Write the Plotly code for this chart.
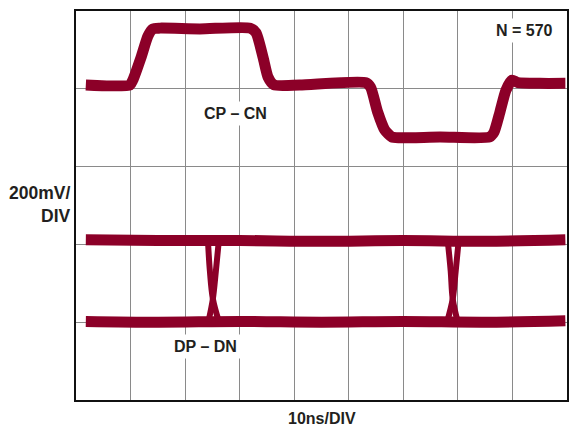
import plotly.graph_objects as go

# ---- data (x in ns-divisions, y in 200mV divisions) ----
cpcn_x = [0.18, 0.99, 1.04, 1.19, 1.32, 1.41, 1.54, 2.27, 3.19, 3.30, 3.43, 3.52, 3.63,
          4.10, 5.31, 5.40, 5.53, 5.66, 5.79, 5.93, 6.67, 7.58, 7.66, 7.77, 7.88, 7.99,
          8.10, 8.50, 8.97]
cpcn_y = [4.05, 4.05, 4.11, 4.40, 4.68, 4.77, 4.78, 4.77, 4.78, 4.72, 4.40, 4.15, 4.05,
          4.05, 4.08, 4.02, 3.70, 3.47, 3.38, 3.37, 3.38, 3.38, 3.44, 3.70, 3.98, 4.11,
          4.08, 4.07, 4.07]

dpdn_level_x = [0.18, 1.5, 3.0, 4.5, 6.0, 7.5, 8.97]
dpdn_high_y = [2.06, 2.05, 2.05, 2.04, 2.05, 2.04, 2.06]
dpdn_low_y = [1.01, 1.00, 1.01, 1.00, 1.01, 1.00, 1.02]

edge_y = [2.054, 1.658, 1.30, 1.008]
edge1_fall_x = [2.418, 2.454, 2.509, 2.619]
edge1_rise_x = [2.619, 2.564, 2.509, 2.427]
edge2_fall_x = [6.813, 6.868, 6.905, 6.996]
edge2_rise_x = [7.015, 6.960, 6.905, 6.804]

x_divs = 9
y_divs = 5

TRACE = "#8C0028"
FONT = "Liberation Sans, Arial, Helvetica, sans-serif"
TXT = "#231F20"

fig = go.Figure()

fig.add_trace(go.Scatter(x=cpcn_x, y=cpcn_y, mode="lines",
                         line=dict(color=TRACE, width=11, shape="spline", smoothing=0.6),
                         hoverinfo="skip", showlegend=False))
for ly in (dpdn_high_y, dpdn_low_y):
    fig.add_trace(go.Scatter(x=dpdn_level_x, y=ly, mode="lines",
                             line=dict(color=TRACE, width=11, shape="spline"),
                             hoverinfo="skip", showlegend=False))
for ex in (edge1_fall_x, edge1_rise_x, edge2_fall_x, edge2_rise_x):
    fig.add_trace(go.Scatter(x=ex, y=edge_y, mode="lines",
                             line=dict(color=TRACE, width=6, shape="spline"),
                             hoverinfo="skip", showlegend=False))

axis_common = dict(showticklabels=False, ticks="", showgrid=True, gridcolor="#8a8a8a",
                   gridwidth=1, zeroline=False, showline=True, linecolor="#111111",
                   linewidth=2, mirror=True, fixedrange=True)
fig.update_xaxes(range=[0, x_divs], dtick=1, tick0=0, **axis_common)
fig.update_yaxes(range=[0, y_divs], dtick=1, tick0=0, **axis_common)

ann_font = dict(family=FONT, size=16, color=TXT)
fig.add_annotation(x=2.925, y=3.686, xref="x", yref="y", text="<b>CP – CN</b>",
                   showarrow=False, font=ann_font, bgcolor="white", borderpad=3)
fig.add_annotation(x=2.381, y=0.689, xref="x", yref="y", text="<b>DP – DN</b>",
                   showarrow=False, font=ann_font, bgcolor="white", borderpad=3)
fig.add_annotation(x=8.218, y=4.745, xref="x", yref="y", text="<b>N = 570</b>",
                   showarrow=False, font=ann_font, bgcolor="white", borderpad=3)
fig.add_annotation(x=-0.006, y=0.5026, xref="paper", yref="paper",
                   text="<b>200mV/<br>DIV</b>", showarrow=False, xanchor="right",
                   yanchor="middle", align="right",
                   font=dict(family=FONT, size=17.5, color=TXT))
fig.add_annotation(x=0.5, y=-0.0485, xref="paper", yref="paper", text="<b>10ns/DIV</b>",
                   showarrow=False, xanchor="center", yanchor="middle", font=ann_font)

# page body has an 8px default margin, so the figure is sized to fit the window
fig.update_layout(width=571, height=422, margin=dict(l=68, r=12, t=1, b=30),
                  paper_bgcolor="white", plot_bgcolor="white")

fig.write_html("out.html")
